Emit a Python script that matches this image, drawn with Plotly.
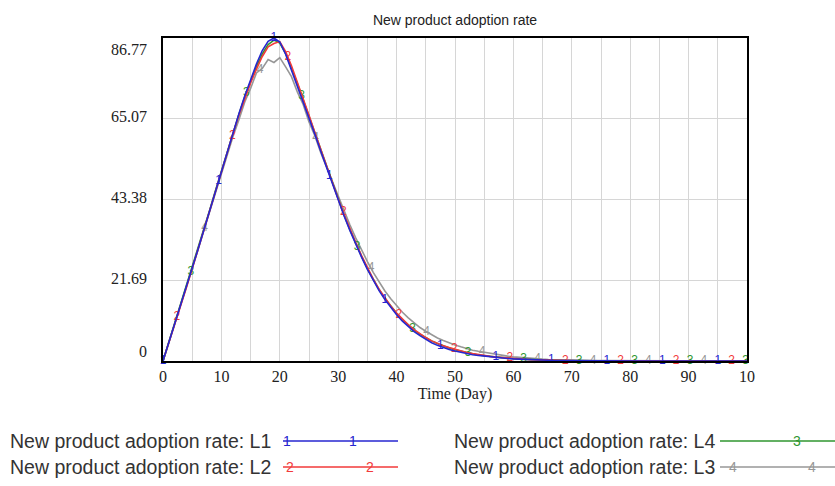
import numpy as np
import plotly.graph_objects as go

# ---------------- data ----------------
time_day = list(range(0, 101))

rate_l1 = [0, 4.9, 9.9, 14.8, 19.8, 24.9, 30.0, 35.2, 40.5, 45.8,
           51.0, 56.2, 61.3, 66.4, 71.2, 75.6, 79.8, 83.4, 85.9, 86.77,
           85.7, 82.4, 78.2, 74.0, 69.8, 65.4, 60.9, 56.4, 51.9, 47.4,
           43.1, 39.0, 35.1, 31.4, 27.9, 24.6, 21.6, 18.9, 16.5, 14.3,
           12.4, 10.7, 9.2, 7.9, 6.8, 5.8, 4.9, 4.2, 3.6, 3.1,
           2.7, 2.3, 2.0, 1.7, 1.5, 1.3, 1.1, 0.95, 0.8, 0.68,
           0.57, 0.48, 0.4, 0.33, 0.27, 0.22, 0.18, 0.15, 0.12, 0.1,
           0.08, 0.07, 0.06, 0.05, 0.04, 0.035, 0.03, 0.025, 0.02, 0.017,
           0.014, 0.012, 0.01, 0.008, 0.007, 0.006, 0.005, 0.004, 0.003, 0.003,
           0.002, 0.002, 0.002, 0.001, 0.001, 0.001, 0.001, 0.001, 0.0, 0.0, 0.0]

rate_l2 = [0, 4.8, 9.9, 14.9, 19.7, 24.8, 30.1, 35.0, 40.4, 45.6,
           50.9, 56.0, 61.2, 66.0, 70.6, 74.7, 78.4, 81.8, 84.4, 85.3,
           85.8, 83.1, 79.3, 75.0, 70.5, 66.0, 61.4, 56.8, 52.2, 47.8,
           43.5, 39.4, 35.5, 31.8, 28.3, 25.0, 22.0, 19.3, 16.9, 14.8,
           12.9, 11.2, 9.7, 8.4, 7.3, 6.3, 5.4, 4.7, 4.1, 3.6,
           3.1, 2.7, 2.3, 2.0, 1.7, 1.45, 1.25, 1.05, 0.9, 0.76,
           0.64, 0.54, 0.45, 0.38, 0.32, 0.27, 0.22, 0.18, 0.15, 0.12,
           0.1, 0.085, 0.07, 0.06, 0.05, 0.04, 0.035, 0.03, 0.025, 0.02,
           0.017, 0.014, 0.012, 0.01, 0.008, 0.007, 0.006, 0.005, 0.004, 0.003,
           0.003, 0.002, 0.002, 0.002, 0.001, 0.001, 0.001, 0.001, 0.001, 0.0, 0.0]

rate_l4 = [0, 5.0, 10.0, 15.0, 20.1, 25.1, 30.3, 35.4, 40.6, 45.9,
           51.1, 56.3, 61.4, 66.3, 71.0, 75.2, 79.1, 82.5, 85.0, 86.2,
           85.4, 82.6, 78.8, 74.6, 70.2, 65.8, 61.3, 56.7, 52.1, 47.6,
           43.3, 39.2, 35.3, 31.6, 28.1, 24.8, 21.9, 19.2, 16.8, 14.7,
           12.8, 11.1, 9.6, 8.3, 7.2, 6.2, 5.4, 4.7, 4.0, 3.5,
           3.0, 2.6, 2.2, 1.9, 1.6, 1.4, 1.2, 1.0, 0.85, 0.72,
           0.6, 0.5, 0.42, 0.35, 0.29, 0.24, 0.2, 0.17, 0.14, 0.11,
           0.09, 0.075, 0.06, 0.05, 0.04, 0.035, 0.03, 0.025, 0.02, 0.017,
           0.014, 0.012, 0.01, 0.008, 0.007, 0.006, 0.005, 0.004, 0.003, 0.003,
           0.002, 0.002, 0.002, 0.001, 0.001, 0.001, 0.001, 0.001, 0.0, 0.0, 0.0]

rate_l3 = [0, 4.9, 9.8, 14.8, 19.9, 24.8, 29.9, 35.1, 40.2, 45.3,
           50.4, 55.3, 60.4, 64.8, 69.6, 73.2, 77.4, 78.6, 81.0, 80.2,
           81.5, 79.0, 76.4, 72.3, 68.9, 64.2, 60.5, 56.0, 52.1, 48.0,
           44.0, 40.2, 36.6, 33.1, 29.8, 26.7, 23.8, 21.2, 18.8, 16.7,
           14.8, 13.1, 11.6, 10.2, 9.0, 8.0, 7.0, 6.2, 5.5, 4.8,
           4.3, 3.8, 3.3, 2.9, 2.6, 2.3, 2.0, 1.7, 1.5, 1.3,
           1.1, 0.95, 0.8, 0.7, 0.6, 0.5, 0.42, 0.36, 0.3, 0.26,
           0.22, 0.18, 0.15, 0.13, 0.11, 0.09, 0.08, 0.07, 0.06, 0.05,
           0.04, 0.035, 0.03, 0.025, 0.02, 0.017, 0.014, 0.012, 0.01, 0.008,
           0.007, 0.006, 0.005, 0.004, 0.003, 0.003, 0.002, 0.002, 0.002, 0.001, 0.001]

series_names = ["New product adoption rate: L1", "New product adoption rate: L2",
                "New product adoption rate: L4", "New product adoption rate: L3"]
series_marks = ["1", "2", "3", "4"]
series_values = [rate_l1, rate_l2, rate_l4, rate_l3]

y_tick_vals = [0, 21.69, 43.38, 65.07, 86.77]
y_tick_text = ["0", "21.69", "43.38", "65.07", "86.77"]
x_tick_vals = [0, 10, 20, 30, 40, 50, 60, 70, 80, 90, 100]
x_tick_text = ["0", "10", "20", "30", "40", "50", "60", "70", "80", "90", "10"]

# ---------------- style ----------------
colors = ["#2626d0", "#f23a3a", "#2f962f", "#979797"]
mark_step = 9.5
mark_offsets = [0.0, 2.375, 4.75, 7.125]

W, H = 835, 486
L, R, T, B = 163, 88, 38, 125
PW, PH = W - L - R, H - T - B


def px_x(px):
    return (px - L) / PW


def px_y(py):
    return (H - B - py) / PH


fig = go.Figure()

# draw order: gray, green, red, blue (blue on top)
for i in [3, 2, 1, 0]:
    fig.add_trace(go.Scatter(x=time_day, y=series_values[i], mode="lines",
                             line=dict(color=colors[i], width=1.6),
                             name=series_names[i], showlegend=False,
                             hoverinfo="x+y"))
    mt = np.arange(mark_offsets[i], 100.0001, mark_step)
    my = np.interp(mt, time_day, series_values[i])
    fig.add_trace(go.Scatter(x=mt, y=my, mode="text", text=[series_marks[i]] * len(mt),
                             textposition="middle center", cliponaxis=False,
                             textfont=dict(family="Liberation Sans", size=12, color=colors[i]),
                             showlegend=False, hoverinfo="skip"))

fig.update_xaxes(range=[0, 100], tickvals=x_tick_vals, ticktext=x_tick_text,
                 tickfont=dict(family="Liberation Serif", size=16, color="#222"),
                 showgrid=True, gridcolor="#d6d6d6", gridwidth=1,
                 minor=dict(dtick=5, tick0=0, showgrid=True, gridcolor="#d6d6d6", gridwidth=1),
                 showline=True, linecolor="black", linewidth=2, mirror=True,
                 ticks="", zeroline=False,
                 title=dict(text="Time (Day)", standoff=0,
                            font=dict(family="Liberation Serif", size=16, color="#222")))

fig.update_yaxes(range=[0, 86.77], tickvals=y_tick_vals, showticklabels=False,
                 showgrid=True, gridcolor="#d6d6d6", gridwidth=1,
                 showline=True, linecolor="black", linewidth=2, mirror=True,
                 ticks="", zeroline=False)

annotations = []
y_shifts = [10, 2, 2, 2, -11]
for v, txt, ys in zip(y_tick_vals, y_tick_text, y_shifts):
    annotations.append(dict(x=0, xref="paper", y=v, yref="y", text=txt, showarrow=False,
                            xanchor="right", yanchor="middle", xshift=-14, yshift=ys,
                            font=dict(family="Liberation Serif", size=16, color="#222")))

# custom legend (two columns, two rows)
legend_rows = [441, 467]
legend_items = [
    # (series idx, text left px, line start px, line end px, row, mark positions px)
    (0, 8, 283, 398, 0, [287, 353]),
    (1, 8, 283, 398, 1, [290, 370]),
    (2, 452, 720, 835, 0, [797]),
    (3, 452, 720, 835, 1, [733, 812]),
]
shapes = []
for idx, tx, x0, x1, row, marks in legend_items:
    yy = px_y(legend_rows[row])
    annotations.append(dict(x=px_x(tx), xref="paper", y=yy, yref="paper", text=series_names[idx],
                            showarrow=False, xanchor="left", yanchor="middle",
                            font=dict(family="Liberation Sans", size=19.5, color="#333")))
    shapes.append(dict(type="line", xref="paper", yref="paper", x0=px_x(x0), x1=px_x(x1),
                       y0=yy, y1=yy, line=dict(color=colors[idx], width=1.6)))
    for mx in marks:
        annotations.append(dict(x=px_x(mx), xref="paper", y=yy, yref="paper", text=series_marks[idx],
                                showarrow=False, xanchor="center", yanchor="middle",
                                font=dict(family="Liberation Sans", size=14, color=colors[idx])))

fig.update_layout(
    width=W, height=H,
    margin=dict(l=L, r=R, t=T, b=B),
    paper_bgcolor="white", plot_bgcolor="white",
    title=dict(text="New product adoption rate", x=0.5, xref="paper", xanchor="center",
               y=1 - 20 / H, yanchor="middle",
               font=dict(family="Liberation Sans", size=14, color="#222")),
    annotations=annotations, shapes=shapes,
    showlegend=False,
)

fig.write_html("out.html")
